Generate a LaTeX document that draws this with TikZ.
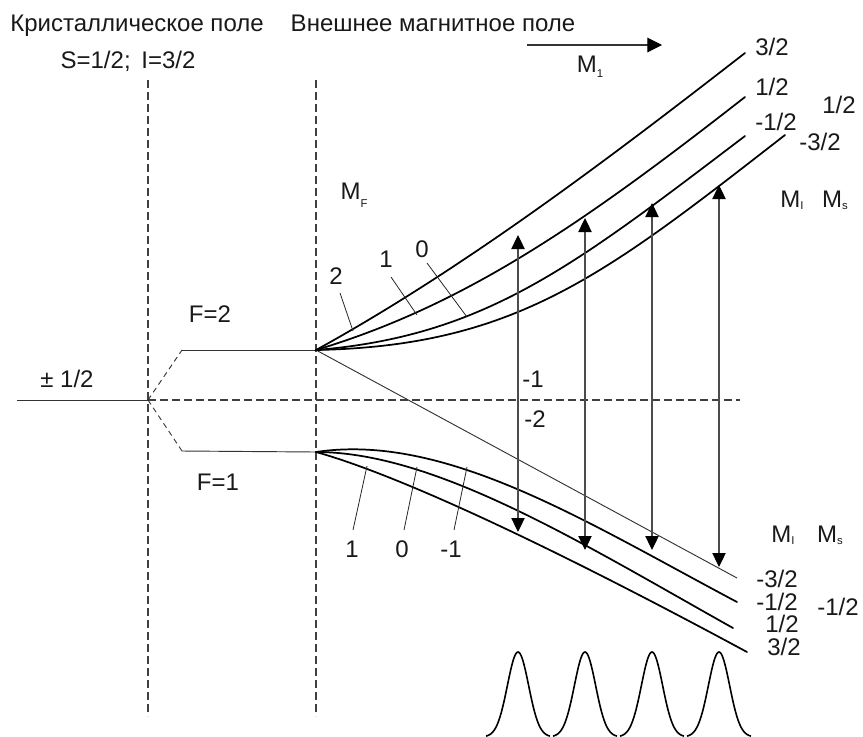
\documentclass[tikz,border=0pt]{standalone}
\usepackage{fontspec}
\setmainfont{Liberation Sans}
\usetikzlibrary{arrows.meta}
\newcommand\lowsub[2]{\raisebox{-#1}{\fontsize{8.5}{8.5}\selectfont #2}}
\begin{document}
\begin{tikzpicture}[x=0.75pt,y=-0.75pt,
  font=\fontsize{18}{21}\selectfont,
  lvl/.style={line width=1.3pt,line join=round,line cap=round},
  thinl/.style={line width=0.7pt,draw=black!80},
  leader/.style={line width=0.6pt,draw=black!85},
  dashl/.style={line width=1pt,draw=black!75,dash pattern=on 6pt off 3pt},
  dashd/.style={line width=0.7pt,draw=black!80,dash pattern=on 4pt off 3pt},
  trans/.style={line width=0.8pt,draw=black!70,
    {Triangle[width=10pt,length=10.5pt,color=black]}-{Triangle[width=10pt,length=10.5pt,color=black]}},
  fieldarr/.style={line width=0.8pt,draw=black!80,-{Triangle[width=11pt,length=11pt,color=black]}},
  lab/.style={anchor=base,inner sep=0pt,text=black!90}]
\useasboundingbox (0,0) rectangle (863,736);

% key points
\coordinate (lft) at (17,400);
\coordinate (o) at (148,400);
\coordinate (up) at (182,350);
\coordinate (dn) at (182,451);
\coordinate (U) at (316,350);
\coordinate (L) at (316,452);
\coordinate (d1t) at (148,80);
\coordinate (d1b) at (148,716);
\coordinate (d2t) at (316,80);
\coordinate (d2b) at (316,716);
\coordinate (hr) at (740,400);
\coordinate (thinend) at (737,578);

% zero-field levels
\draw[thinl] (lft) -- (o);
\draw[dashl] (d1t) -- (d1b);
\draw[dashl] (d2t) -- (d2b);
\draw[dashl] (o) -- (hr);
\draw[dashd] (o) -- (up);
\draw[dashd] (o) -- (dn);
\draw[thinl] (up) -- (U);
\draw[thinl] (dn) -- (L);
\draw[thinl] (U) -- (thinend);

% upper branch (F=2)
\coordinate (eA) at (745,53);
\coordinate (eB) at (745,97);
\coordinate (eC) at (745,136);
\coordinate (eD) at (785,135);
\draw[lvl] (U) .. controls (466,267.5) and (615,154) .. (eA);
\draw[lvl] (U) .. controls (466,305) and (585,222) .. (eB);
\draw[lvl] (U) .. controls (486,336) and (575,265) .. (eC);
\draw[lvl] (U) .. controls (516,346) and (605,275) .. (eD);

% lower branch (F=1)
\coordinate (eE) at (737,602);
\coordinate (eF) at (733,628);
\coordinate (eG) at (747,652);
\draw[lvl] (L) .. controls (446,432.5) and (587,522.5) .. (eE);
\draw[lvl] (L) .. controls (436,452) and (583,544) .. (eF);
\draw[lvl] (L) .. controls (416,480) and (597,571) .. (eG);

% leaders
\coordinate (l2a) at (340,293); \coordinate (l2b) at (353,331);
\coordinate (l1a) at (391,277); \coordinate (l1b) at (417,315);
\coordinate (l0a) at (427,263); \coordinate (l0b) at (467,317);
\draw[leader] (l2a) -- (l2b);
\draw[leader] (l1a) -- (l1b);
\draw[leader] (l0a) -- (l0b);
\coordinate (m1a) at (353,530); \coordinate (m1b) at (367,466);
\coordinate (m0a) at (404,530); \coordinate (m0b) at (417,467);
\coordinate (mma) at (454,530); \coordinate (mmb) at (467,467);
\draw[leader] (m1a) -- (m1b);
\draw[leader] (m0a) -- (m0b);
\draw[leader] (mma) -- (mmb);

% transitions
\coordinate (a1t) at (518,235); \coordinate (a1b) at (518,532);
\coordinate (a2t) at (585,218); \coordinate (a2b) at (585,550);
\coordinate (a3t) at (652,203); \coordinate (a3b) at (652,550);
\coordinate (a4t) at (719,185); \coordinate (a4b) at (719,567);
\draw[trans] (a1b) -- (a1t);
\draw[trans] (a2b) -- (a2t);
\draw[trans] (a3b) -- (a3t);
\draw[trans] (a4b) -- (a4t);

% field arrow
\coordinate (fa) at (527,45); \coordinate (fb) at (662,45);
\draw[fieldarr] (fa) -- (fb);

% spectrum
\foreach \c in {518,585,652,719}
  \draw[line width=1.2pt] plot[domain=-32:32,samples=65,smooth] ({\x+\c},{737-85*exp(-(\x/15)^2)});

% texts
\node[lab] (t1) at (137,31) {Кристаллическое поле};
\node[lab] (t2) at (433,31) {Внешнее магнитное поле};
\node[lab] (t3) at (128,68) {S=1/2;\, I=3/2};
\node[lab] (tm1) at (590,72) {M\lowsub{4pt}{1}};

\node[lab] (u1) at (772,55) {3/2};
\node[lab] (u2) at (772,95) {1/2};
\node[lab] (u3) at (776,130) {-1/2};
\node[lab] (u4) at (820,150) {-3/2};
\node[lab] (us) at (839,113) {1/2};
\node[lab] (umi) at (792,207) {M\lowsub{1.5pt}{I}};
\node[lab] (ums) at (835,207) {M\lowsub{1.5pt}{s}};

\node[lab] (lmi) at (783,542) {M\lowsub{1.5pt}{I}};
\node[lab] (lms) at (830,542) {M\lowsub{1.5pt}{s}};
\node[lab] (d1) at (777,587) {-3/2};
\node[lab] (d2) at (777,610) {-1/2};
\node[lab] (d3) at (782,632) {1/2};
\node[lab] (d4) at (784,655) {3/2};
\node[lab] (ds) at (838,615) {-1/2};

\node[lab] (mm1) at (533,387) {-1};
\node[lab] (mm2) at (535,427) {-2};

\node[lab] (pm) at (67,387) {± 1/2};
\node[lab] (f2) at (210,322) {F=2};
\node[lab] (f1) at (218,490) {F=1};
\node[lab] (mf) at (354,199) {M\lowsub{6pt}{F}};

\node[lab] (n2) at (336,284) {2};
\node[lab] (n1) at (386,267) {1};
\node[lab] (n0) at (422,257) {0};
\node[lab] (k1) at (352,557) {1};
\node[lab] (k0) at (402,557) {0};
\node[lab] (km) at (451,557) {-1};
\end{tikzpicture}
\end{document}
